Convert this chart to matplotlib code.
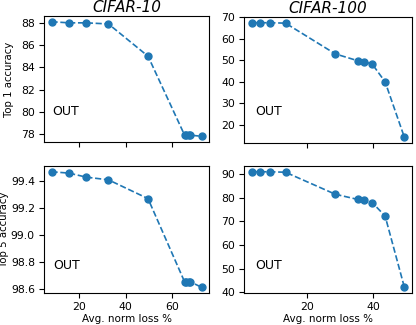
import matplotlib
matplotlib.use("Agg")
import matplotlib.pyplot as plt

# CIFAR-10
c10_loss = [8.0, 15.6, 23.0, 32.6, 49.7, 65.5, 66.3, 67.2, 68.0, 72.8]
c10_top1 = [88.1, 88.0, 88.0, 87.9, 85.0, 77.9, 77.9, 77.9, 77.9, 77.8]
c10_top5 = [99.47, 99.46, 99.43, 99.41, 99.27, 98.65, 98.65, 98.65, 98.65, 98.61]

# CIFAR-100
c100_loss = [3.4, 6.0, 9.0, 13.6, 28.6, 35.4, 37.2, 39.7, 43.6, 49.4]
c100_top1 = [67.5, 67.5, 67.5, 67.3, 53.0, 49.8, 49.3, 48.3, 40.0, 14.2]
c100_top5 = [91.0, 91.0, 91.0, 90.8, 81.5, 79.3, 78.9, 78.0, 72.3, 42.2]

plt.rcParams["font.family"] = "DejaVu Sans"
plt.rcParams["font.size"] = 8

fig = plt.figure(figsize=(4.16, 3.25), dpi=100)
W, H = 416, 325
def px_axes(x0, y0, x1, y1):
    return fig.add_axes([x0 / W, 1 - y1 / H, (x1 - x0) / W, (y1 - y0) / H])

ax_tl = px_axes(44, 16, 209, 142)
ax_tr = px_axes(244, 17, 412, 143)
ax_bl = px_axes(44, 166, 209, 293)
ax_br = px_axes(244, 166, 412, 293)

style = dict(marker="o", linestyle="--", color="#1f77b4", markersize=5, linewidth=1.2)

ax_tl.plot(c10_loss, c10_top1, **style)
ax_bl.plot(c10_loss, c10_top5, **style)
ax_tr.plot(c100_loss, c100_top1, **style)
ax_br.plot(c100_loss, c100_top5, **style)

ax_tl.set_title("CIFAR-10", fontsize=11, style="italic", pad=3)
ax_tr.set_title("CIFAR-100", fontsize=11, style="italic", pad=3)

ax_tl.set_ylabel("Top 1 accuracy", fontsize=7.3)
ax_bl.set_ylabel("Top 5 accuracy", fontsize=7.3)
ax_tl.yaxis.set_label_coords(-0.182, 0.5)
ax_bl.yaxis.set_label_coords(-0.215, 0.5)
ax_bl.set_xlabel("Avg. norm loss %", fontsize=7.5, labelpad=1.5)
ax_br.set_xlabel("Avg. norm loss %", fontsize=7.5, labelpad=1.5)

ax_tl.set_yticks([78, 80, 82, 84, 86, 88])
ax_bl.set_yticks([98.6, 98.8, 99.0, 99.2, 99.4])
ax_tr.set_yticks([20, 30, 40, 50, 60, 70])
ax_br.set_yticks([40, 50, 60, 70, 80, 90])

for ax in (ax_tl, ax_bl):
    ax.set_xticks([20, 40, 60])
for ax in (ax_tr, ax_br):
    ax.set_xticks([20, 40])
ax_tl.set_xlim(ax_bl.get_xlim())
ax_tr.set_xlim(ax_br.get_xlim())
ax_tl.tick_params(labelbottom=False)
ax_tr.tick_params(labelbottom=False)

for ax, (tx, ty) in zip([ax_tl, ax_tr, ax_bl, ax_br],
                        [(0.05, 0.24), (0.065, 0.25), (0.057, 0.22), (0.065, 0.22)]):
    ax.text(tx, ty, "OUT", transform=ax.transAxes, fontsize=9, va="center")
    ax.tick_params(labelsize=7.8, pad=3)

fig.savefig("out.png", dpi=100)
